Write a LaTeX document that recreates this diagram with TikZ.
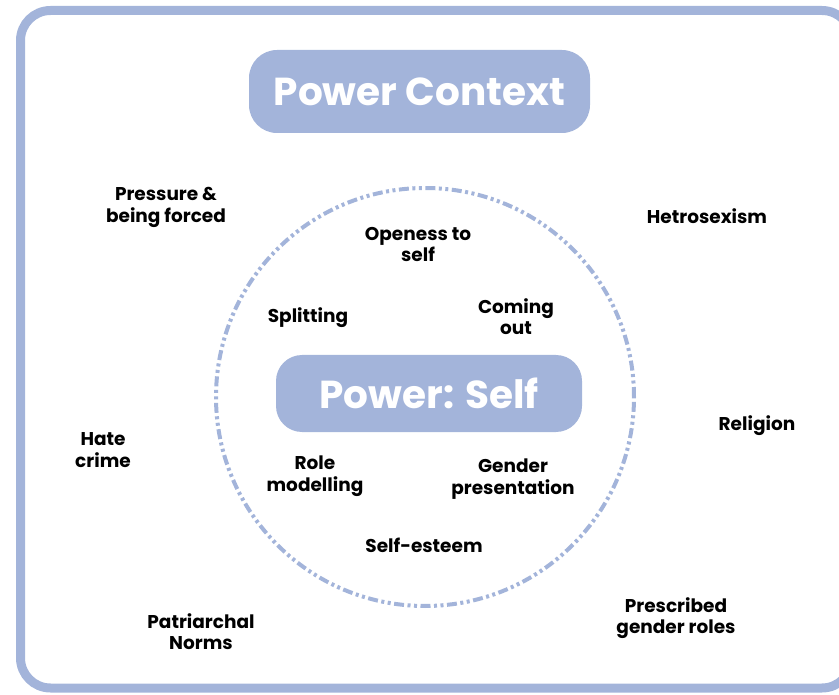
\documentclass[tikz,border=0pt]{standalone}
\usepackage{fontspec}
\setmainfont{Poppins}
\definecolor{powerblue}{RGB}{163,180,218}
\tikzset{
  title/.style={fill=powerblue, text=white, rounded corners=28pt, font=\fontsize{39}{44}\selectfont\bfseries},
  factor/.style={align=center, font=\fontsize{18.5}{21.5}\selectfont\bfseries},
}
\begin{document}
\begin{tikzpicture}[x=1pt, y=-1pt]
\useasboundingbox (0,0) rectangle (839,695);
% outer frame, runs off the right edge
\draw[powerblue, line width=9pt, rounded corners=30pt] (20.5,10.5) rectangle (852,688);
% inner circle
\draw[powerblue, line width=4pt, dash pattern=on 10pt off 3.5pt on 3pt off 3.5pt on 3pt off 3.5pt]
  (425,397) circle [radius=209pt];
\node[title, minimum width=341pt, minimum height=83pt] (ctx) at (419.5,91.5) {Power Context};
\node[title, minimum width=306pt, minimum height=77pt, rounded corners=26pt] (self) at (429,393.5) {Power: Self};
% inside the circle
\node[factor] (open) at (418,244.5) {Openess to\\self};
\node[factor] (split) at (308,318) {Splitting};
\node[factor] (coming) at (516,316.5) {Coming\\out};
\node[factor] (role) at (315,476) {Role\\modelling};
\node[factor] (gender) at (513,479) {Gender\\presentation};
\node[factor] (esteem) at (424,545) {Self-esteem};
% around the circle
\node[factor] (pressure) at (166,207.5) {Pressure \&\\being forced};
\node[factor] (hetro) at (707,216) {Hetrosexism};
\node[factor] (hate) at (103,450) {Hate\\crime};
\node[factor] (religion) at (757,426) {Religion};
\node[factor] (patri) at (201,631.5) {Patriarchal\\Norms};
\node[factor] (roles) at (676,618) {Prescribed\\gender roles};
\end{tikzpicture}
\end{document}
